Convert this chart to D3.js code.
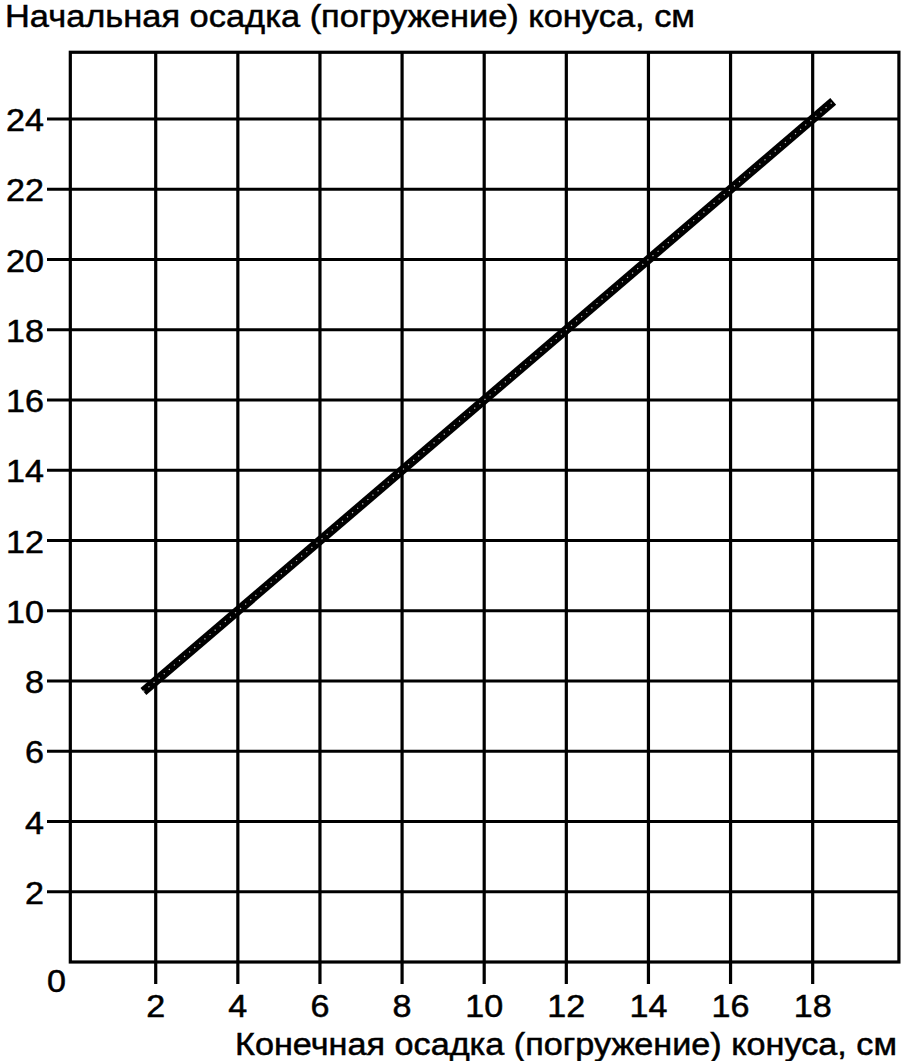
<!DOCTYPE html>
<html><head><meta charset="utf-8">
<script src="https://cdn.jsdelivr.net/npm/d3@7"></script>
<style>body{margin:0;background:#fff}svg{display:block}text{font-family:"Liberation Sans",Arial,sans-serif;fill:#000;stroke:#000;stroke-width:0.5}</style>
</head><body>
<script>
const xTicks = [2,4,6,8,10,12,14,16,18];
const yTicks = [2,4,6,8,10,12,14,16,18,20,22,24];
const lineX = [1.7, 18.5];
const lineY = [7.7, 24.5];
const yTitle = "Начальная осадка (погружение) конуса, см";
const xTitle = "Конечная осадка (погружение) конуса, см";

const W = 909, H = 1061;
const svg = d3.select("body").append("svg").attr("width", W).attr("height", H);
const x = d3.scaleLinear().domain([0, 20]).range([73.6, 894.8]);
const y = d3.scaleLinear().domain([0, 24]).range([962, 119]);
const SX = 1.1, FS = 31;

const x0 = x(-0.08), x1 = x(20.1), yb = y(0), yt = y(25.9);
const g = svg.append("g");
g.selectAll(".vx").data(xTicks).join("line")
  .attr("x1", d => x(d)).attr("x2", d => x(d)).attr("y1", yt).attr("y2", yb + 22)
  .attr("stroke", "#000").attr("stroke-width", 3.2);
g.selectAll(".hy").data(yTicks).join("line")
  .attr("y1", d => y(d)).attr("y2", d => y(d)).attr("x1", 47).attr("x2", x1)
  .attr("stroke", "#000").attr("stroke-width", 3.2);
g.append("rect").attr("x", x0).attr("y", yt).attr("width", x1 - x0).attr("height", yb - yt)
  .attr("fill", "none").attr("stroke", "#000").attr("stroke-width", 3.2);

function txt(sel, px, py, anchor, s) {
  sel.append("text").attr("transform", `translate(${px},${py}) scale(${SX},1)`)
    .attr("text-anchor", anchor).attr("font-size", FS).text(s);
}
xTicks.forEach(d => txt(g, x(d), yb + 55, "middle", d));
yTicks.forEach(d => txt(g, 44, y(d) + 12, "end", d));
txt(g, 66, yb + 30, "end", "0");

svg.append("text").attr("x", 5).attr("y", 27).attr("font-size", FS)
  .attr("textLength", 690).attr("lengthAdjust", "spacingAndGlyphs").text(yTitle);
svg.append("text").attr("x", 235).attr("y", 1055).attr("font-size", FS)
  .attr("textLength", 662).attr("lengthAdjust", "spacingAndGlyphs").text(xTitle);

const pts = lineX.map((d, i) => [x(d), y(lineY[i])]);
const lg = d3.line();
svg.append("path").attr("d", lg(pts)).attr("stroke", "#000").attr("stroke-width", 9)
  .attr("fill", "none").attr("stroke-linecap", "butt");
svg.append("path").attr("d", lg(pts)).attr("stroke", "#fff").attr("stroke-width", 1.2)
  .attr("stroke-dasharray", "1.2 5.5").attr("fill", "none").attr("opacity", 0.8);
</script>
</body></html>
